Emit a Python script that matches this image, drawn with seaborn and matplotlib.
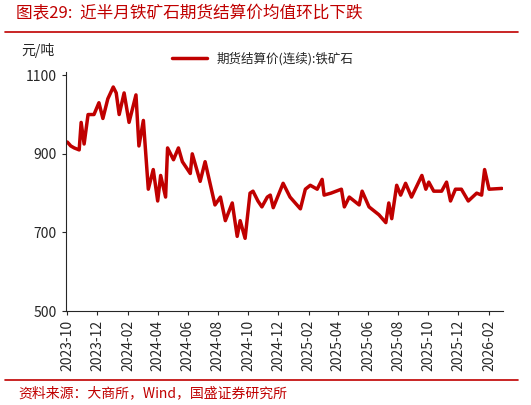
import matplotlib
matplotlib.use("Agg")
import matplotlib.pyplot as plt
import matplotlib.dates as mdates
import pandas as pd
import seaborn as sns

dates = [
    "2023-10-01", "2023-10-08", "2023-10-15", "2023-10-25", "2023-10-29", "2023-11-04", "2023-11-12",
    "2023-11-24", "2023-12-04", "2023-12-12", "2023-12-22", "2024-01-02", "2024-01-08",
    "2024-01-14", "2024-01-24", "2024-02-03", "2024-02-17", "2024-02-23", "2024-03-03",
    "2024-03-13", "2024-03-23", "2024-04-01", "2024-04-07", "2024-04-17", "2024-04-21",
    "2024-05-03", "2024-05-13", "2024-05-21", "2024-06-06", "2024-06-10", "2024-06-26",
    "2024-07-06", "2024-07-26", "2024-08-06", "2024-08-16", "2024-08-30", "2024-09-09",
    "2024-09-15", "2024-09-25", "2024-10-05", "2024-10-11", "2024-10-21", "2024-10-29",
    "2024-11-09", "2024-11-15", "2024-11-21", "2024-12-11", "2024-12-25", "2025-01-15",
    "2025-01-25", "2025-02-04", "2025-02-18", "2025-02-28", "2025-03-04", "2025-03-18",
    "2025-04-08", "2025-04-14", "2025-04-24", "2025-05-14", "2025-05-20", "2025-06-03",
    "2025-06-23", "2025-07-07", "2025-07-13", "2025-07-19", "2025-07-29", "2025-08-06",
    "2025-08-16", "2025-08-28", "2025-09-18", "2025-09-26", "2025-10-02", "2025-10-12",
    "2025-10-28", "2025-11-07", "2025-11-15", "2025-11-25", "2025-12-07", "2025-12-21",
    "2026-01-07", "2026-01-17", "2026-01-23", "2026-02-01", "2026-02-27",
]
prices = [
    930, 920, 915, 910, 980, 925, 1000,
    1000, 1030, 990, 1040, 1070, 1055,
    1000, 1055, 980, 1050, 920, 985,
    810, 860, 780, 845, 790, 915,
    885, 915, 880, 850, 900, 830,
    880, 770, 790, 730, 775, 690,
    730, 685, 800, 805, 780, 765,
    790, 795, 763, 825, 790, 760,
    810, 820, 810, 835, 795, 800,
    810, 765, 790, 770, 805, 765,
    745, 725, 775, 735, 820, 795,
    825, 790, 845, 810, 828, 805,
    805, 828, 780, 810, 810, 780,
    800, 795, 860, 810, 812,
]

df = pd.DataFrame({"date": pd.to_datetime(dates), "price": prices})

sns.set_style("ticks")
plt.rcParams["font.family"] = ["Noto Sans CJK SC", "DejaVu Sans"]

fig = plt.figure(figsize=(5.31, 4.05), dpi=100)
ax = fig.add_axes([0.124, 0.232, 0.823, 0.59])
sns.lineplot(data=df, x="date", y="price", ax=ax, color="#C00000", linewidth=2.5,
             label="期货结算价(连续):铁矿石")

ax.set_ylim(500, 1108)
ax.set_yticks([500, 700, 900, 1100])
ax.set_xlim(pd.Timestamp("2023-09-28"), pd.Timestamp("2026-03-01"))
ax.xaxis.set_major_locator(mdates.MonthLocator(bymonth=[2, 4, 6, 8, 10, 12]))
ax.xaxis.set_major_formatter(mdates.DateFormatter("%Y-%m"))
plt.setp(ax.get_xticklabels(), rotation=90)
ax.tick_params(labelsize=10, direction="out", length=3)
ax.set_xlabel("")
ax.set_ylabel("")
sns.despine(ax=ax)
ax.legend(loc="upper center", bbox_to_anchor=(0.45, 1.13), frameon=False, fontsize=9,
          handlelength=2.8)

fig.text(0.03, 0.965, "图表29:  近半月铁矿石期货结算价均值环比下跌", color="#C00000",
         fontsize=12, style="italic", va="center")
fig.add_artist(plt.Line2D([0.01, 0.975], [0.921, 0.921], color="#C00000", linewidth=1.2))
fig.text(0.04, 0.875, "元/吨", fontsize=10, va="center")
fig.add_artist(plt.Line2D([0.01, 0.975], [0.062, 0.062], color="#C00000", linewidth=1.2))
fig.text(0.034, 0.03, "资料来源：大商所，Wind，国盛证券研究所", color="#C00000",
         fontsize=10, style="italic", va="center")

fig.savefig("out.png", dpi=100)
